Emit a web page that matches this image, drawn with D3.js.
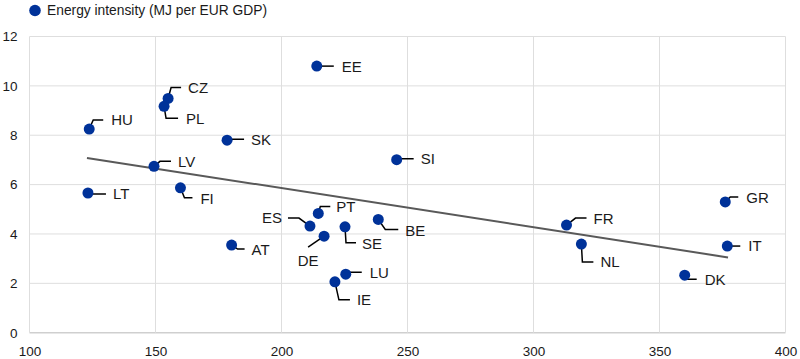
<!DOCTYPE html>
<html>
<head>
<meta charset="utf-8">
<script src="https://cdn.jsdelivr.net/npm/d3@7"></script>
<style>
  body { margin: 0; background: #fff; }
  svg { display: block; font-family: "Liberation Sans", Arial, sans-serif; }
</style>
</head>
<body>
<div id="chart"></div>
<script>
// DATA
// ---------------------------------------------------------------------------------------------
const countries = ["HU", "LT", "LV", "FI", "SK", "CZ", "PL", "EE", "SI", "AT", "ES", "PT", "DE",
                   "SE", "BE", "LU", "IE", "FR", "NL", "GR", "IT", "DK"];
const xValues   = [123.7, 123.2, 149.4, 159.9, 178.4, 155.0, 153.4, 214.0, 245.7, 180.2, 211.3, 214.6, 216.9,
                   225.2, 238.4, 225.5, 221.2, 313.1, 319.0, 376.1, 376.9, 360.0];
const intensity = [8.25, 5.66, 6.74, 5.87, 7.80, 9.49, 9.17, 10.80, 7.01, 3.55, 4.32, 4.83, 3.91,
                   4.29, 4.59, 2.37, 2.06, 4.36, 3.59, 5.30, 3.51, 2.33];
const trendX = [122.8, 377.2];
const trendY = [7.08, 3.05];
const xTicks = [100, 150, 200, 250, 300, 350, 400];
const yTicks = [0, 2, 4, 6, 8, 10, 12];
const seriesName = "Energy intensity (MJ per EUR GDP)";

// LABEL LAYOUT (pixel offsets from the dot: knee, end of leader, text anchor)
// ---------------------------------------------------------------------------------------------
const labelLayout = {
  HU: { knee: [4, -9],  end: [14, -9],  text: [22, -9] },
  LT: { knee: [2, 1],   end: [18, 1],   text: [25, 1] },
  LV: { knee: [6, -5],  end: [17, -5],  text: [24, -5] },
  FI: { knee: [4, 10],  end: [12, 10],  text: [20, 11] },
  SK: { knee: [2, -1],  end: [17, -1],  text: [24, -1] },
  CZ: { knee: [3, -11], end: [13, -11], text: [20, -11] },
  PL: { knee: [2, 12],  end: [14, 12],  text: [22, 12] },
  EE: { knee: [2, 0],   end: [17, 0],   text: [25, 0] },
  SI: { knee: [2, -1],  end: [17, -1],  text: [24, -1] },
  AT: { knee: [6, 4],   end: [13, 4],   text: [20, 5] },
  ES: { knee: [-11, -8], end: [-22, -8], text: [-28, -8], anchor: "end" },
  PT: { knee: [2, -7],  end: [12, -7],  text: [18, -7] },
  DE: { knee: [-16, 11], end: [-16, 11], text: [-16, 24], anchor: "middle" },
  SE: { knee: [1, 16],  end: [11, 16],  text: [17, 17] },
  BE: { knee: [7, 10],  end: [20, 10],  text: [27, 11] },
  LU: { knee: [3, -2],  end: [16, -2],  text: [24, -2] },
  IE: { knee: [4, 18],  end: [15, 18],  text: [22, 18] },
  FR: { knee: [9, -7],  end: [20, -7],  text: [27, -6] },
  NL: { knee: [1, 18],  end: [12, 18],  text: [19, 18] },
  GR: { knee: [5, -5],  end: [13, -5],  text: [21, -4] },
  IT: { knee: [2, 0],   end: [13, 0],   text: [21, 0] },
  DK: { knee: [3, 4],   end: [12, 4],   text: [20, 4] }
};

const width = 800, height = 359;
const blue = "#003299";

const svg = d3.select("#chart").append("svg")
  .attr("width", width)
  .attr("height", height);

const x = d3.scaleLinear([100, 400], [29.5, 785.5]);
const y = d3.scaleLinear([0, 12], [332.7, 36.5]);

// GRID
// ---------------------------------------------------------------------------------------------
svg.append("g")
  .selectAll("line")
  .data(yTicks)
  .enter()
  .append("line")
  .attr("x1", x(100)).attr("x2", x(400))
  .attr("y1", d => y(d)).attr("y2", d => y(d))
  .style("stroke", d => d === 0 ? "#cfcfcf" : "#dedede")
  .style("stroke-width", d => d === 0 ? 1.5 : 1);

svg.append("g")
  .selectAll("line")
  .data(xTicks)
  .enter()
  .append("line")
  .attr("x1", d => x(d)).attr("x2", d => x(d))
  .attr("y1", y(0)).attr("y2", y(12))
  .style("stroke", "#dedede")
  .style("stroke-width", 1);

// AXES (labels only)
// ---------------------------------------------------------------------------------------------
const xAxis = svg.append("g")
  .attr("transform", `translate(0,${y(0)})`)
  .call(d3.axisBottom(x).tickValues(xTicks).tickSize(0).tickPadding(14));
const yAxis = svg.append("g")
  .attr("transform", `translate(${x(100)},0)`)
  .call(d3.axisLeft(y).tickValues(yTicks).tickSize(0).tickPadding(12));
[xAxis, yAxis].forEach(a => {
  a.select(".domain").remove();
  a.selectAll("text")
    .style("font-family", "'Liberation Sans', Arial, sans-serif")
    .style("font-size", "13.5px")
    .style("fill", "#1a1a1a");
});

// TREND LINE
// ---------------------------------------------------------------------------------------------
svg.append("line")
  .attr("x1", x(trendX[0])).attr("y1", y(trendY[0]))
  .attr("x2", x(trendX[1])).attr("y2", y(trendY[1]))
  .style("stroke", "#595959")
  .style("stroke-width", 2);

// POINTS, LEADERS AND LABELS
// ---------------------------------------------------------------------------------------------
const points = countries.map((c, i) => ({ name: c, x: xValues[i], y: intensity[i] }));

svg.append("g")
  .selectAll("polyline")
  .data(points)
  .enter()
  .append("polyline")
  .attr("points", d => {
    const l = labelLayout[d.name], px = x(d.x), py = y(d.y);
    return [[px, py], [px + l.knee[0], py + l.knee[1]], [px + l.end[0], py + l.end[1]]].join(" ");
  })
  .style("fill", "none")
  .style("stroke", "#000")
  .style("stroke-width", 1.5);

svg.append("g")
  .selectAll("circle")
  .data(points)
  .enter()
  .append("circle")
  .attr("cx", d => x(d.x))
  .attr("cy", d => y(d.y))
  .attr("r", 5.5)
  .style("fill", blue);

svg.append("g")
  .selectAll("text")
  .data(points)
  .enter()
  .append("text")
  .attr("x", d => x(d.x) + labelLayout[d.name].text[0])
  .attr("y", d => y(d.y) + labelLayout[d.name].text[1])
  .attr("dy", "0.36em")
  .attr("text-anchor", d => labelLayout[d.name].anchor || "start")
  .style("font-size", "15px")
  .style("fill", "#1a1a1a")
  .text(d => d.name);

// LEGEND
// ---------------------------------------------------------------------------------------------
svg.append("circle")
  .attr("cx", 35).attr("cy", 10.5).attr("r", 5.8)
  .style("fill", blue);
svg.append("text")
  .attr("x", 47).attr("y", 10.5)
  .attr("dy", "0.36em")
  .style("font-size", "13.8px")
  .style("fill", "#1a1a1a")
  .text(seriesName);
</script>
</body>
</html>
